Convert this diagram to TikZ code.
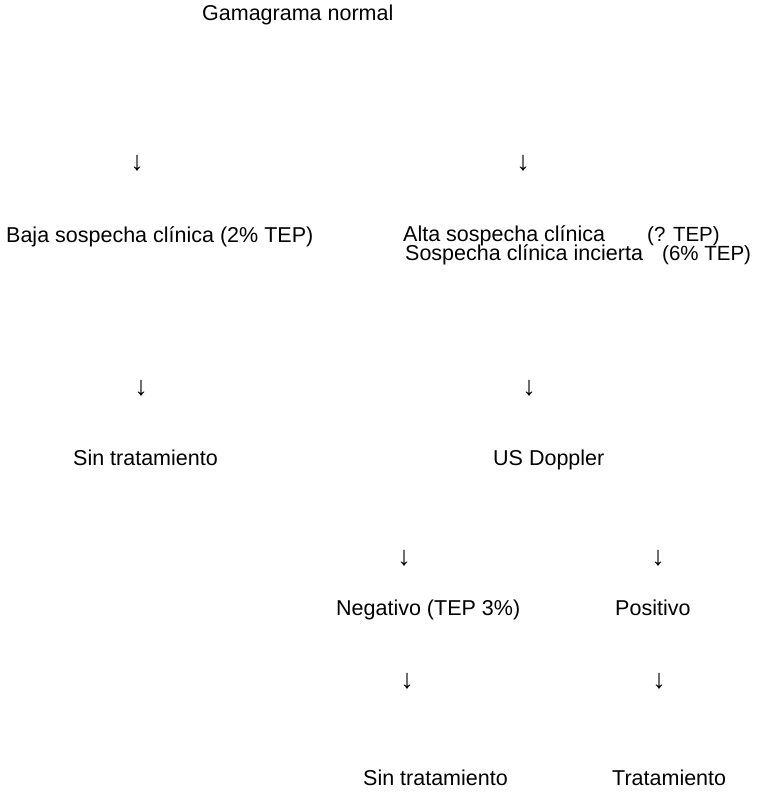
\documentclass[tikz,border=0pt]{standalone}
\usepackage{fontspec}
\setmainfont{Liberation Sans}
\usetikzlibrary{positioning}
\newcommand{\parte}[1]{{\fontsize{20.5}{17}\selectfont #1}}
\begin{document}
\begin{tikzpicture}[x=1pt,y=-1pt,
	txt/.style={anchor=base west,inner sep=0pt,font=\fontsize{21.5}{17}\selectfont},
	flecha/.style={anchor=base,inner sep=0pt,font=\fontsize{27}{17}\selectfont}]
	\useasboundingbox (0,0) rectangle (758,793);
	% nivel 1
	\node[txt] (gamagrama) at (202,20) {Gamagrama normal};
	\node[flecha] (f1a) at (137,170) {↓};
	\node[flecha] (f1b) at (523,170) {↓};
	% nivel 2
	\node[txt] (baja) at (6,242) {Baja sospecha clínica (2\% TEP)};
	\node[txt,align=left] (alta) at (403,260) {\makebox[244pt][l]{Alta sospecha clínica}\parte{(? TEP)}\\[-3pt]
		\makebox[259pt][l]{\hspace{2pt}Sospecha clínica incierta}\parte{(6\% TEP)}};
	\node[flecha] (f2a) at (141,395) {↓};
	\node[flecha] (f2b) at (529,395) {↓};
	% nivel 3
	\node[txt] (sintrat) at (73,465) {Sin tratamiento};
	\node[txt] (doppler) at (493,465) {US Doppler};
	\node[flecha] (f3a) at (404,565) {↓};
	\node[flecha] (f3b) at (658,565) {↓};
	% nivel 4
	\node[txt] (negativo) at (336,615) {Negativo (TEP 3\%)};
	\node[txt] (positivo) at (615,615) {Positivo};
	\node[flecha] (f4a) at (407,688) {↓};
	\node[flecha] (f4b) at (659,688) {↓};
	% nivel 5
	\node[txt] (sintratb) at (363,785) {Sin tratamiento};
	\node[txt] (trat) at (612,785) {Tratamiento};
\end{tikzpicture}
\end{document}
